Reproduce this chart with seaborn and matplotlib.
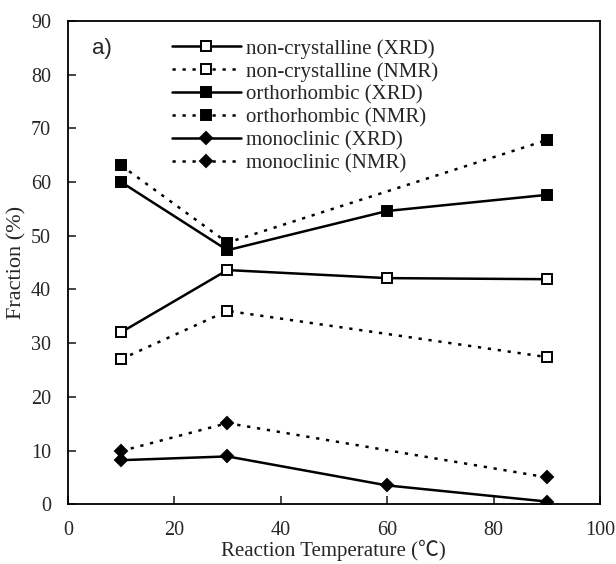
import matplotlib
matplotlib.use("Agg")
import matplotlib.pyplot as plt
import seaborn as sns
import pandas as pd

sns.set_style("ticks")
plt.rcParams["font.family"] = ["Liberation Serif", "Noto Sans CJK SC", "DejaVu Serif"]

temps_xrd = [10, 30, 60, 90]
temps_nmr = [10, 30, 90]

noncryst_xrd = [32.0, 43.6, 42.1, 41.9]
noncryst_nmr = [27.0, 36.0, 27.4]
ortho_xrd = [60.0, 47.3, 54.6, 57.6]
ortho_nmr = [63.1, 48.7, 67.8]
mono_xrd = [8.2, 8.9, 3.5, 0.5]
mono_nmr = [9.9, 15.1, 5.0]

series = [
    ("non-crystalline (XRD)", temps_xrd, noncryst_xrd, "s", "white", "-"),
    ("non-crystalline (NMR)", temps_nmr, noncryst_nmr, "s", "white", ":"),
    ("orthorhombic (XRD)", temps_xrd, ortho_xrd, "s", "black", "-"),
    ("orthorhombic (NMR)", temps_nmr, ortho_nmr, "s", "black", ":"),
    ("monoclinic (XRD)", temps_xrd, mono_xrd, "D", "black", "-"),
    ("monoclinic (NMR)", temps_nmr, mono_nmr, "D", "black", ":"),
]

fig, ax = plt.subplots(figsize=(6.16, 5.64), dpi=100)
fig.subplots_adjust(left=0.11, right=0.974, top=0.963, bottom=0.106)

for label, xs, ys, mk, fc, ls in series:
    df = pd.DataFrame({"x": xs, "y": ys})
    line_kw = dict(linewidth=1.8) if ls == "-" else dict(linewidth=1.8, dashes=(1.3, 2.7))
    sns.lineplot(data=df, x="x", y="y", ax=ax, color="black", marker=mk,
                 markerfacecolor=fc, markeredgecolor="black", markeredgewidth=1.4,
                 markersize=7 if mk == "s" else 6.5, label=label, **line_kw)

ax.set_xlim(0, 100)
ax.set_ylim(0, 90)
ax.set_xticks(range(0, 101, 20))
ax.set_yticks(range(0, 91, 10))
ax.tick_params(direction="in", length=6, width=1.2, labelsize=14.5)
ax.tick_params(axis="x", pad=12)
ax.tick_params(axis="y", pad=12)
for s in ax.spines.values():
    s.set_linewidth(1.3)
    s.set_color("black")

ax.set_xlabel("Reaction Temperature (\u2103)", fontsize=15, labelpad=0)
ax.set_ylabel("Fraction (%)", fontsize=16, labelpad=3)

ax.text(0.045, 0.943, "a)", transform=ax.transAxes, fontsize=16,
        family="Liberation Sans", va="center")

leg = ax.legend(loc="upper left", bbox_to_anchor=(0.18, 0.98), frameon=False,
                fontsize=15, handlelength=3.3, handletextpad=0.25,
                labelspacing=0.16, borderaxespad=0)

fig.savefig("out.png", dpi=100)
